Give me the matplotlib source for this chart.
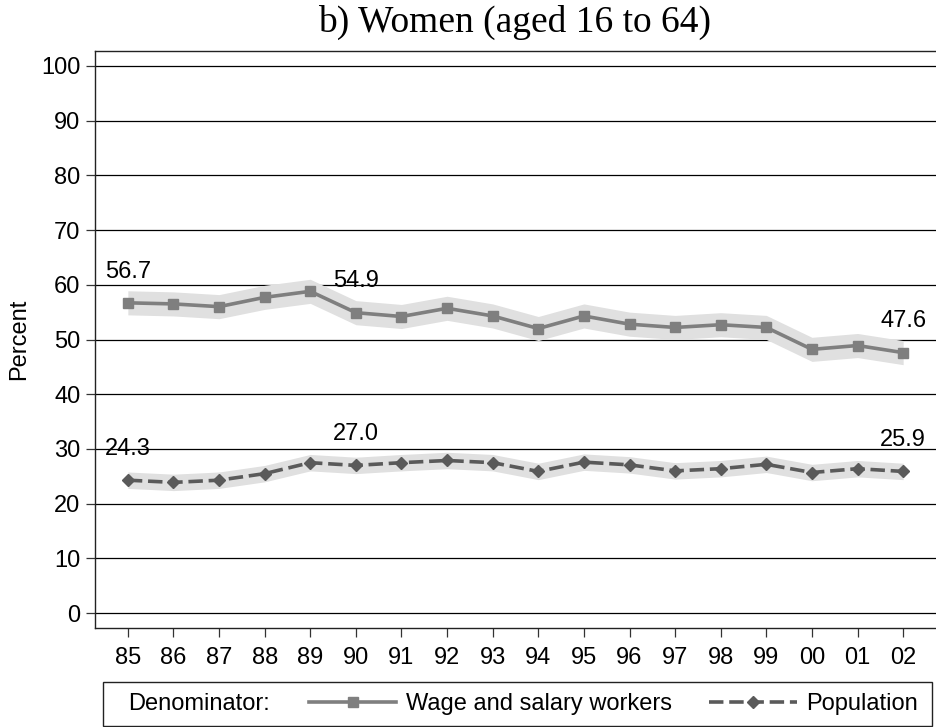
import matplotlib
matplotlib.use("Agg")
import matplotlib.pyplot as plt
from matplotlib.patches import Rectangle

years = ['85', '86', '87', '88', '89', '90', '91', '92', '93',
         '94', '95', '96', '97', '98', '99', '00', '01', '02']
wage = [56.7, 56.5, 56.0, 57.7, 58.8, 54.9, 54.2, 55.7, 54.3,
        52.0, 54.3, 52.8, 52.2, 52.7, 52.2, 48.2, 48.9, 47.6]
population = [24.3, 23.9, 24.3, 25.5, 27.5, 27.0, 27.5, 27.9, 27.5,
              25.9, 27.6, 27.1, 26.0, 26.4, 27.2, 25.7, 26.4, 25.9]
wage_ci = 2.2
pop_ci = 1.5
labelled = [0, 5, 17]

W, H = 936, 727
fig = plt.figure(figsize=(W / 100, H / 100), dpi=100)
ax = fig.add_axes([95 / W, 1 - 628 / H, (W - 95) / W, (628 - 51) / H])

x = list(range(len(years)))
fs = 17

# confidence bands
ax.fill_between(x, [v - wage_ci for v in wage], [v + wage_ci for v in wage],
                color='#e0e0e0', lw=0, zorder=2)
ax.fill_between(x, [v - pop_ci for v in population], [v + pop_ci for v in population],
                color='#e0e0e0', lw=0, zorder=2)

l1, = ax.plot(x, wage, color='#7f7f7f', lw=2.6, marker='s', ms=6.5, zorder=4)
l2, = ax.plot(x, population, color='#5a5a5a', lw=2.6, ls=(0, (4, 1.6)),
              marker='D', ms=6, zorder=4)

for series in (wage, population):
    for i in labelled:
        ax.annotate('%.1f' % series[i], (x[i], series[i]), xytext=(0, 22.5),
                    textcoords='offset points', ha='center', va='center',
                    fontsize=fs, family='Liberation Sans', zorder=5)

ax.set_xlim(-0.72, len(years) - 1 + 0.72)
ax.set_ylim(-2.7, 102.7)
ax.set_yticks(range(0, 101, 10))
ax.set_xticks(x)
ax.set_xticklabels(years)
ax.yaxis.grid(True, color='black', lw=0.9)
ax.set_axisbelow(True)
for lab in ax.get_xticklabels() + ax.get_yticklabels():
    lab.set_family('Liberation Sans')
    lab.set_fontsize(fs)
ax.tick_params(axis='both', direction='out', length=6.5, width=0.9, color='#333333')
ax.tick_params(axis='y', pad=4)
ax.tick_params(axis='x', pad=7)
ax.spines['right'].set_visible(False)
for s in ('left', 'bottom', 'top'):
    ax.spines[s].set_linewidth(1.0)
    ax.spines[s].set_color('#222222')

fig.text(19 / W, 1 - 339 / H, 'Percent', rotation=90, ha='center', va='center',
         fontsize=fs, family='Liberation Sans')

fig.text(515 / W, 1 - 22 / H, 'b) Women (aged 16 to 64)', ha='center', va='center',
         fontsize=27, family='Liberation Serif')

# legend box
fig.patches.append(Rectangle((103 / W, 1 - 726 / H), (932 - 103) / W, 44 / H,
                             transform=fig.transFigure, fill=False,
                             edgecolor='#222222', lw=1.0))
fig.text(128 / W, 1 - 704 / H, 'Denominator:', ha='left', va='center',
         fontsize=fs, family='Liberation Sans')
fig.legend([l1, l2], ['Wage and salary workers', 'Population'], ncol=2,
           loc='center right', bbox_to_anchor=(918 / W, 1 - 704 / H),
           frameon=False, handlelength=3.7, handletextpad=0.4,
           columnspacing=1.6, borderpad=0, borderaxespad=0,
           prop={'family': 'Liberation Sans', 'size': fs})

fig.savefig('out.png', dpi=100)
